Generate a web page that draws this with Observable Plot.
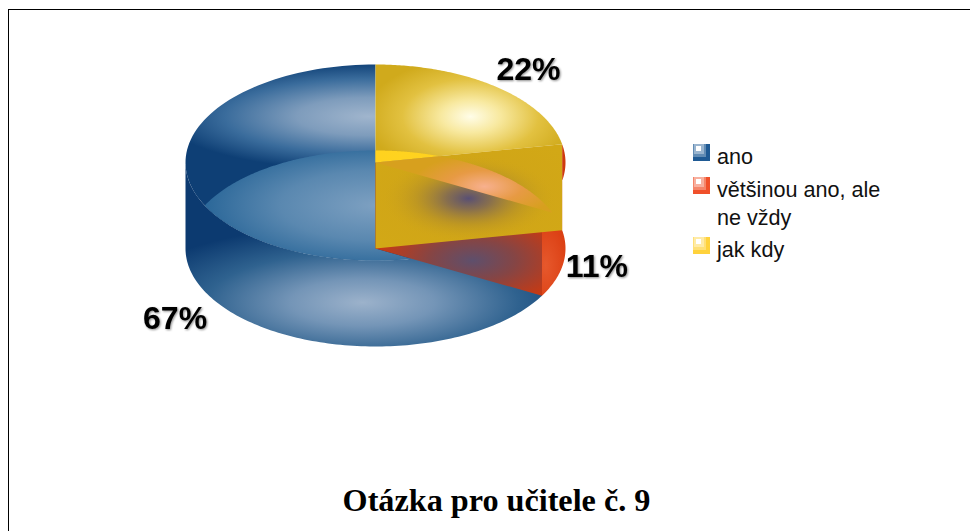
<!DOCTYPE html>
<html><head><meta charset="utf-8">
<script src="https://cdn.jsdelivr.net/npm/d3@7"></script>
<script src="https://cdn.jsdelivr.net/npm/@observablehq/plot@0.6"></script>
<style>
html,body{margin:0;padding:0;background:#fff;overflow:hidden}
#wrap{position:relative;width:970px;height:531px;overflow:hidden}
#wrap svg{position:absolute;left:0;top:0}
#frame{position:absolute;left:8px;top:9px;width:970px;height:540px;border-left:1.5px solid #000;border-top:1.5px solid #000}
.leg{position:absolute;font:21.6px/28px "Liberation Sans",Arial,sans-serif;color:#111;white-space:pre}
.sw{position:absolute;width:17px;height:17px}
.sw div{position:absolute}
#title{position:absolute;left:0;width:993px;top:480px;text-align:center;font:bold 32.2px/40px "Liberation Serif","Times New Roman",serif;color:#000}
</style></head><body>
<div id="wrap"><div id="frame"></div><div id="title"></div></div>
<script>
const title = "Otázka pro učitele č. 9";
const categories = ["ano", "většinou ano, ale\nne vždy", "jak kdy"];
const percents = [67, 11, 22];
const swatchColors = ["#1f5a94", "#f0502a", "#ffd23c"];

// The pie runs clockwise from 12 o'clock: jak kdy, většinou, ano
const total = d3.sum(percents);
const toAngle = p => p / total * 360;
const A1 = toAngle(percents[2]);          // yellow / red edge
const A2 = A1 + toAngle(percents[1]);     // red / blue edge
const rad = d => d * Math.PI / 180;
const deg = r => r * 180 / Math.PI;
const Z = 43 / 98;                        // half height of the cylinder, in ellipse radii
const pt = (a, z) => ({x: Math.sin(rad(a)), y: Math.cos(rad(a)) + z});
const arc = (a, b, z) => d3.range(0, 121).map(i => pt(a + (b - a) * i / 120, z));
const axis = z => ({x: 0, y: z});

// Angle where a rim crosses a radial edge of the opposite face: cos t - cot(edge) sin t = s * 2Z
const meet = (edge, s) => {
  const k = -1 / Math.tan(rad(edge));
  return deg(Math.atan(k)) + deg(Math.acos(s * 2 * Z / Math.hypot(1, k)));
};
const t1 = meet(A1, 1);
const t2 = meet(A2, 1);
const t3 = meet(A2, -1);
const leftTop = 180 + deg(Math.acos(Z));
const leftBottom = 360 - deg(Math.acos(Z));

const shapes = [
  {id: "blueTop",  pts: [axis(Z), ...arc(A2, 360, Z)]},
  {id: "blueWall", pts: [...arc(A2, 270, Z), ...arc(270, A2, -Z)]},
  {id: "blueLens", pts: [...arc(leftBottom, 360, -Z), axis(-Z), ...arc(t3, leftTop, Z)]},
  {id: "redWall",  pts: [...arc(A1, A2, Z), ...arc(A2, A1, -Z)]},
  {id: "redFace",  pts: [axis(Z), axis(-Z), pt(A2, -Z), pt(A2, Z)]},
  {id: "yellowTop", pts: [axis(Z), ...arc(0, A1, Z)]},
  {id: "yellowBack", pts: [axis(Z), ...arc(0, t1, -Z)]},
  {id: "yellowFace", pts: [axis(Z), axis(-Z), pt(A1, -Z), pt(A1, Z)]},
  {id: "faceSpot",  pts: [axis(Z), axis(-Z), pt(A1, -Z), pt(A1, Z)]},
  {id: "orange",   pts: [axis(Z), ...arc(t1, t2, -Z)]}
];

const labels = [
  {t: percents[0] + "%", x: -1.055, y: -1.16},
  {t: percents[1] + "%", x: 1.165, y: -0.62},
  {t: percents[2] + "%", x: 0.805, y: 1.39}
];

const plot = Plot.plot({
  width: 970, height: 531, margin: 0,
  style: {background: "transparent", overflow: "visible"},
  x: {domain: [-1, 1], range: [185, 565], axis: null},
  y: {domain: [-1, 1], range: [303, 107], axis: null},
  marks: [
    ...shapes.map(s => Plot.line(s.pts, {x: "x", y: "y", stroke: "none", fill: `url(#${s.id})`, curve: "linear"})),
    Plot.text(labels, {x: "x", y: "y", text: "t", fill: "#000", fontSize: 32, fontWeight: "bold",
      fontFamily: "Liberation Sans, Arial, sans-serif", textAnchor: "middle", lineAnchor: "middle"})
  ]
});

// Gradient paints for the shapes
const defs = d3.select(plot).insert("defs", ":first-child");
function radial(id, cx, cy, rx, ry, stops) {
  const g = defs.append("radialGradient").attr("id", id).attr("gradientUnits", "userSpaceOnUse")
    .attr("cx", 0).attr("cy", 0).attr("r", 1)
    .attr("gradientTransform", `translate(${cx},${cy}) scale(${rx},${ry})`);
  stops.forEach(([o, c, a]) => g.append("stop").attr("offset", o).attr("stop-color", c).attr("stop-opacity", a ?? 1));
}
radial("blueTop", 368, 116, 205, 54, [[0, "#a0b5cd"], [.35, "#7e9cbc"], [.7, "#3a6c9c"], [1, "#0e3f75"]]);
radial("blueWall", 362, 302, 240, 78, [[0, "#9cb2cb"], [.3, "#7495b7"], [.65, "#2f628f"], [1, "#0c3a70"]]);
radial("blueLens", 375, 205, 190, 70, [[0, "#7da0c1"], [.5, "#5a88b0"], [1, "#1f5f93"]]);
radial("redWall", 545, 265, 35, 70, [[0, "#e6582c"], [.6, "#dc4115"], [1, "#cf3a0e"]]);
radial("redFace", 472, 260, 95, 45, [[0, "#5e4f6c"], [.45, "#854545"], [1, "#c63a14"]]);
radial("yellowTop", 470, 116, 105, 58, [[0, "#fffde8"], [.28, "#f8e9a0"], [.65, "#e2c140"], [1, "#d0aa1c"]]);
radial("yellowBack", 400, 155, 60, 30, [[0, "#ffd31f"], [1, "#ffd01e"]]);
radial("yellowFace", 468, 196, 120, 70, [[0, "#cfa318"], [1, "#d2a816"]]);
radial("faceSpot", 468, 198, 88, 44, [[0, "#584f74", 1], [.25, "#7a6558", .85], [.6, "#ad8a2c", .5], [1, "#d2a816", 0]]);
radial("orange", 484, 186, 75, 32, [[0, "#f7b08e"], [.5, "#e79a44"], [1, "#d7a01e"]]);

d3.select(plot).selectAll("text").style("filter", "drop-shadow(1.5px 1.5px 1px rgba(0,0,0,.45))");

const wrap = document.getElementById("wrap");
wrap.appendChild(plot);
document.getElementById("title").textContent = title;

const legendY = [144, 177, 237];
categories.forEach((c, i) => {
  const s = document.createElement("div"); s.className = "sw";
  s.style.left = "693px"; s.style.top = legendY[i] + "px";
  const lighter = d3.interpolateRgb(swatchColors[i], "#fff");
  [[0, 0, 17, 0], [0, 0, 13, .3], [1, 0, 10, .55], [3, 2, 5, 1]].forEach(([l, t, w, m]) => {
    const b = document.createElement("div");
    b.style.cssText = `left:${l}px;top:${t}px;width:${w}px;height:${w}px;background:${lighter(m)}`;
    s.appendChild(b);
  });
  wrap.appendChild(s);
  const t = document.createElement("div"); t.className = "leg";
  t.style.left = "717px"; t.style.top = (legendY[i] - 1) + "px"; t.textContent = c;
  wrap.appendChild(t);
});
</script>
</body></html>
